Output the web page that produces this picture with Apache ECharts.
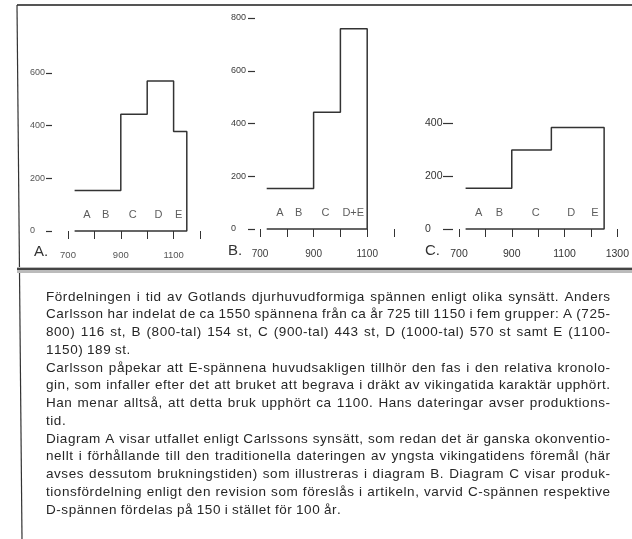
<!DOCTYPE html>
<html><head><meta charset="utf-8">
<script src="https://cdn.jsdelivr.net/npm/echarts@6/dist/echarts.min.js"></script>
<style>html,body{margin:0;padding:0;background:#fff}#c{width:632px;height:539px}</style>
</head><body><div id="c"></div>
<script>
// ---- data (spännen per century) ----
const yearsA = [725, 900, 1000, 1100, 1150];
const densityA = [154, 443, 570, 378];
const yearsB = [725, 900, 1000, 1100];
const densityB = [154, 443, 759];
const yearsC = [725, 900, 1050, 1200, 1250];
const densityC = [154, 298, 383, 383];

const lettersA = ['A', 'B', 'C', 'D', 'E'];
const letterYearsA = [772, 843, 945, 1043, 1119];
const lettersB = ['A', 'B', 'C', 'D+E'];
const letterYearsB = [774, 844, 944, 1048];
const lettersC = ['A', 'B', 'C', 'D', 'E'];
const letterYearsC = [775, 853, 991, 1125, 1215];
const letterLevel = 60;

const panelNames = ['A.', 'B.', 'C.'];
const xLabelYears = [700, 900, 1100, 1300];

const captionLines = [
  ['Fördelningen i tid av Gotlands djurhuvudformiga spännen enligt olika synsätt. Anders', true],
  ['Carlsson har indelat de ca 1550 spännena från ca år 725 till 1150 i fem grupper: A (725-', true],
  ['800) 116 st, B (800-tal) 154 st, C (900-tal) 443 st, D (1000-tal) 570 st samt E (1100-', true],
  ['1150) 189 st.', false],
  ['Carlsson påpekar att E-spännena huvudsakligen tillhör den fas i den relativa kronolo-', true],
  ['gin, som infaller efter det att bruket att begrava i dräkt av vikingatida karaktär upphört.', true],
  ['Han menar alltså, att detta bruk upphört ca 1100. Hans dateringar avser produktions-', true],
  ['tid.', false],
  ['Diagram A visar utfallet enligt Carlssons synsätt, som redan det är ganska okonventio-', true],
  ['nellt i förhållande till den traditionella dateringen av yngsta vikingatidens föremål (här', true],
  ['avses dessutom brukningstiden) som illustreras i diagram B. Diagram C visar produk-', true],
  ['tionsfördelning enligt den revision som föreslås i artikeln, varvid C-spännen respektive', true],
  ['D-spännen fördelas på 150 i stället för 100 år.', false]
];

// ---- helpers ----
function outline(years, dens) {
  const pts = [];
  for (let i = 0; i < dens.length; i++) {
    pts.push([years[i], dens[i]]);
    pts.push([years[i + 1], dens[i]]);
  }
  pts.push([years[years.length - 1], 0]);
  pts.push([years[0], 0]);
  return pts;
}
function letterData(ls, ys) {
  return ls.map((l, i) => ({ name: l, value: [ys[i], letterLevel] }));
}
const FONT = "'Liberation Sans', Arial, Helvetica, sans-serif";
const ink = '#333';

const panels = [
  { grid: { left: 68, top: 73, width: 132, height: 158 }, xmax: 1200, ymax: 600, xOff: 7, yOff: 16, yTick: 6, yMargin: 22, yFont: 9, xFont: 9.5, col: '#555', years: yearsA, dens: densityA, L: lettersA, LY: letterYearsA },
  { grid: { left: 260, top: 18, width: 134, height: 211 }, xmax: 1200, ymax: 800, xOff: 8, yOff: 5, yTick: 7, yMargin: 24, yFont: 9, xFont: 10, col: '#3a3a3a', years: yearsB, dens: densityB, L: lettersB, LY: letterYearsB },
  { grid: { left: 459, top: 123, width: 161, height: 106 }, xmax: 1300, ymax: 400, xOff: 8, yOff: 6, yTick: 10, yMargin: 28, yFont: 10.5, xFont: 10.5, col: '#333', years: yearsC, dens: densityC, L: lettersC, LY: letterYearsC }
];

const option = {
  animation: false,
  backgroundColor: '#fff',
  grid: panels.map(p => Object.assign({ containLabel: false }, p.grid)),
  xAxis: panels.map((p, i) => ({
    type: 'value', gridIndex: i, min: 700, max: p.xmax, interval: 100,
    position: 'bottom', offset: p.xOff,
    axisLine: { show: false },
    axisTick: { show: true, length: 8, lineStyle: { color: ink, width: 1 } },
    axisLabel: { show: true, margin: 12, fontSize: p.xFont, color: p.col, fontFamily: FONT,
      formatter: v => xLabelYears.indexOf(v) >= 0 ? String(v) : '',
      showMinLabel: true, showMaxLabel: true },
    splitLine: { show: false }
  })),
  yAxis: panels.map((p, i) => ({
    type: 'value', gridIndex: i, min: 0, max: p.ymax, interval: 200,
    position: 'left', offset: p.yOff,
    axisLine: { show: false },
    axisTick: { show: true, length: p.yTick, lineStyle: { color: ink, width: 1.2 } },
    axisLabel: { show: true, align: 'left', margin: p.yMargin, fontSize: p.yFont, color: p.col, fontFamily: FONT },
    splitLine: { show: false }
  })),
  series: [],
  graphic: []
};

panels.forEach((p, i) => {
  option.series.push({
    type: 'line', xAxisIndex: i, yAxisIndex: i, data: outline(p.years, p.dens),
    symbol: 'none', lineStyle: { color: ink, width: 1.5 }, silent: true, clip: false
  });
  option.series.push({
    type: 'scatter', xAxisIndex: i, yAxisIndex: i, data: letterData(p.L, p.LY),
    symbolSize: 0, silent: true,
    label: { show: true, position: 'inside', formatter: '{b}', fontSize: 11, color: ink, fontFamily: FONT }
  });
});

// panel letters
const panelLabelPos = [[34, 252], [228, 251], [425, 251]];
panelNames.forEach((n, i) => {
  option.graphic.push({ type: 'text', x: panelLabelPos[i][0], y: panelLabelPos[i][1],
    style: { text: n, font: '15px ' + FONT, fill: '#333', textVerticalAlign: 'middle' } });
});

// frame
option.graphic.push({ type: 'line', shape: { x1: 17, y1: 5, x2: 632, y2: 5 }, style: { stroke: '#555', lineWidth: 2 } });
option.graphic.push({ type: 'line', shape: { x1: 17, y1: 5, x2: 22, y2: 539 }, style: { stroke: '#333', lineWidth: 1.2 } });
option.graphic.push({ type: 'rect', shape: { x: 17, y: 267, width: 615, height: 6 }, style: { fill: '#bbb' } });
option.graphic.push({ type: 'line', shape: { x1: 17, y1: 269, x2: 632, y2: 269 }, style: { stroke: '#444', lineWidth: 2 } });

// caption, justified with slight letter spacing
const CAP_FONT = '13.5px ' + FONT;
const LS = 0.55;
const cv = document.createElement('canvas').getContext('2d');
cv.font = CAP_FONT;
const capX0 = 46, capX1 = 610, capY0 = 297, capDY = 17.75;
function wordWidth(w) {
  let s = 0;
  for (const ch of w) s += cv.measureText(ch).width + LS;
  return s - LS;
}
function placeWord(w, x, y) {
  for (const ch of w) {
    option.graphic.push({ type: 'text', x: x, y: y, silent: true,
      style: { text: ch, font: CAP_FONT, fill: '#262626', textVerticalAlign: 'middle' } });
    x += cv.measureText(ch).width + LS;
  }
}
const spaceW = cv.measureText(' ').width + LS;
captionLines.forEach(([line, just], li) => {
  const y = capY0 + li * capDY;
  const words = line.split(' ');
  const widths = words.map(wordWidth);
  const total = widths.reduce((a, b) => a + b, 0);
  const gap = just ? (capX1 - capX0 - total) / (words.length - 1) : spaceW;
  let x = capX0;
  words.forEach((w, wi) => {
    placeWord(w, x, y);
    x += widths[wi] + gap;
  });
});

const chart = echarts.init(document.getElementById('c'), null, { renderer: 'canvas' });
chart.setOption(option);
</script></body></html>
